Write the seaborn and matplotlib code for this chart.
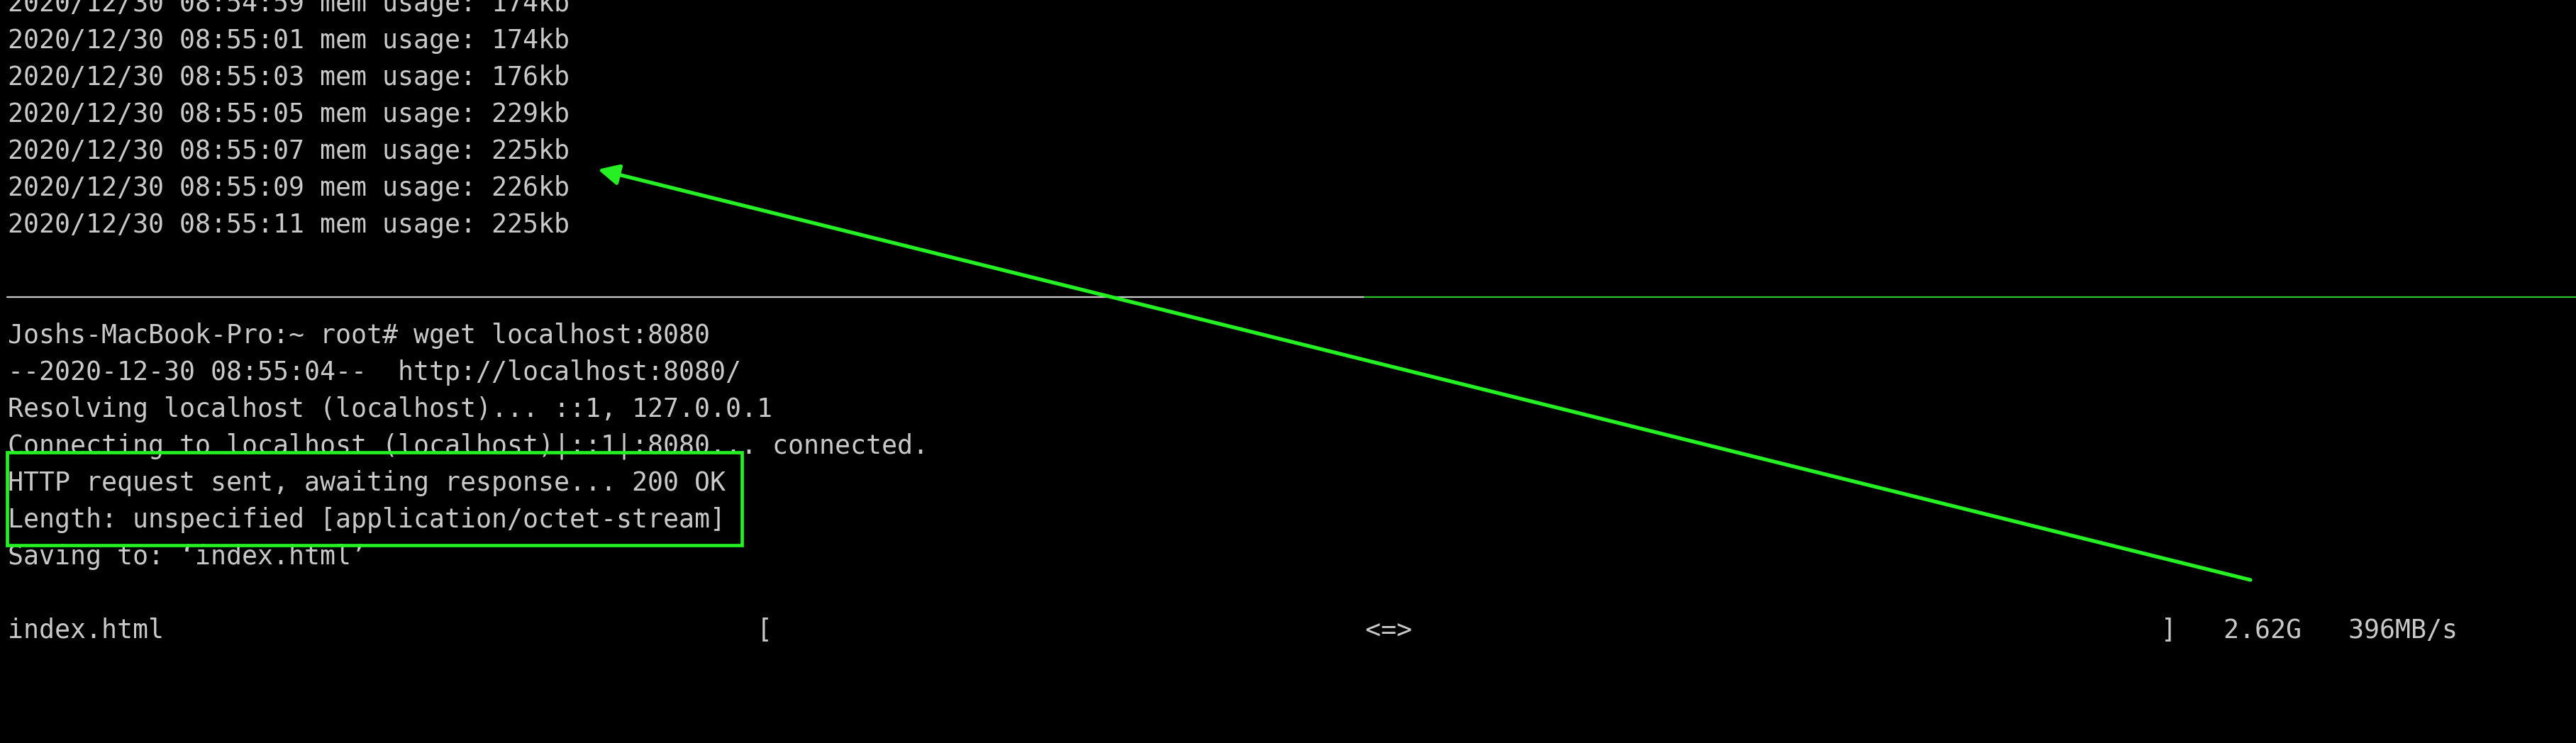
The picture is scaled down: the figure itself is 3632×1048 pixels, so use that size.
import matplotlib
matplotlib.use("Agg")
import matplotlib.pyplot as plt
import seaborn as sns
from matplotlib.patches import Rectangle

# Inhalt des Terminal-Screenshots
log_times = ["08:54:59", "08:55:01", "08:55:03", "08:55:05", "08:55:07", "08:55:09", "08:55:11"]
mem_kb = [174, 174, 176, 229, 225, 226, 225]
log_date = "2020/12/30"

wget_lines = [
    "Joshs-MacBook-Pro:~ root# wget localhost:8080",
    "--2020-12-30 08:55:04--  http://localhost:8080/",
    "Resolving localhost (localhost)... ::1, 127.0.0.1",
    "Connecting to localhost (localhost)|::1|:8080... connected.",
    "HTTP request sent, awaiting response... 200 OK",
    "Length: unspecified [application/octet-stream]",
    "Saving to: \u2018index.html\u2019",
]
progress_file = "index.html"
progress_spinner = "<=>"
progress_size = "2.62G"
progress_rate = "396MB/s"

# Farben / Layout
TEXT = "#c9c9c9"
GREEN = "#24f024"
SEP_GREY = "#cdcdcd"
SEP_GREEN = "#2ac42a"
W, H = 3632, 1048
X0 = 11          # linker Rand (px)
ROW0 = 15.6      # Baseline der ersten Zeile (px)
ROW_H = 52.0     # Zeilenhoehe (px)


def row_y(k):
    return ROW0 + ROW_H * k


sns.set_theme(style="dark", rc={
    "figure.facecolor": "black",
    "axes.facecolor": "black",
    "savefig.facecolor": "black",
})
plt.rcParams["font.family"] = ["DejaVu Sans Mono", "DejaVu Sans"]

fig = plt.figure(figsize=(W / 100, H / 100), dpi=100)
ax = fig.add_axes([0, 0, 1, 1])

fs = 26.3

# obere Pane: Speicher-Log
for k, (t, m) in enumerate(zip(log_times, mem_kb)):
    ax.text(X0, row_y(k), f"{log_date} {t} mem usage: {m}kb",
            color=TEXT, fontsize=fs, va="baseline", ha="left")

# Trennlinie zwischen den Panes
sns.lineplot(x=[10, 1924], y=[419, 419], ax=ax, color=SEP_GREY, linewidth=1.6)
sns.lineplot(x=[1924, W], y=[419, 419], ax=ax, color=SEP_GREEN, linewidth=1.6)
ax.set_xlim(0, W)
ax.set_ylim(H, 0)
ax.set_axis_off()

# untere Pane: wget
for i, line in enumerate(wget_lines):
    ax.text(X0, row_y(9 + i), line, color=TEXT, fontsize=fs, va="baseline", ha="left")

progress = f"{progress_file:<48}[{'':<38}{progress_spinner}{'':<48}]   {progress_size}   {progress_rate}"
ax.text(X0, row_y(17), progress, color=TEXT, fontsize=fs, va="baseline", ha="left")

# Markierung
ax.add_patch(Rectangle((10, 638), 1035.5, 130.5, fill=False, edgecolor=GREEN,
                       linewidth=3.4, zorder=5))
ax.annotate("", xy=(843, 239), xytext=(3173, 818),
            arrowprops=dict(arrowstyle="-|>", color=GREEN, lw=3.8,
                            mutation_scale=44, shrinkA=0, shrinkB=0),
            zorder=5)

fig.savefig("out.png", dpi=100, facecolor="black")
